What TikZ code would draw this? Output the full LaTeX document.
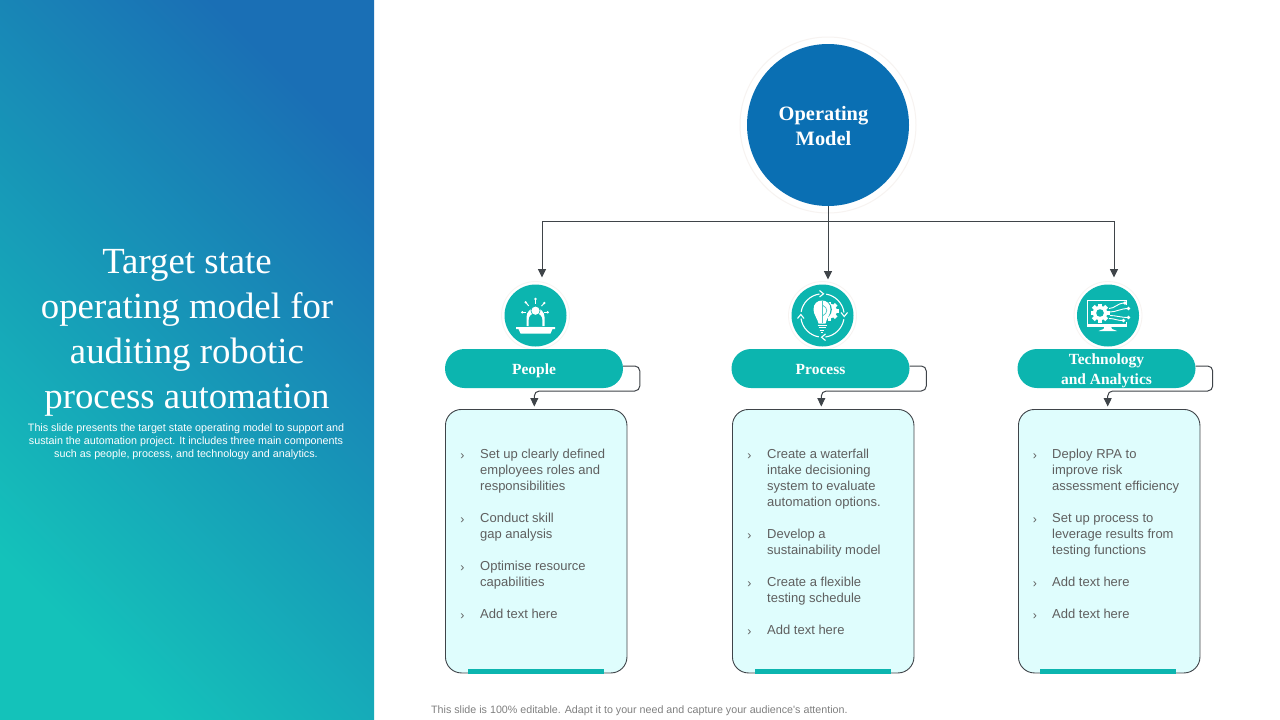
\documentclass[tikz,border=0pt]{standalone}
\usepackage{fontspec}
\setmainfont{Liberation Serif}
\newfontfamily\bodyfont{Liberation Sans}
\usetikzlibrary{arrows.meta,calc}
\definecolor{teal1}{HTML}{0CB5AF}
\definecolor{bluedeep}{HTML}{0A6FB3}
\definecolor{gradblue}{HTML}{1A6FB5}
\definecolor{gradteal}{HTML}{14C2BA}
\definecolor{panelfill}{HTML}{DFFDFD}
\definecolor{linedark}{HTML}{3F4449}
\definecolor{bodytext}{HTML}{5F5F5F}
\definecolor{ringc}{HTML}{F7F3F1}
\newcommand{\stackedtext}[1]{\begin{tabular}{@{}c@{}}#1\end{tabular}}
\newcommand{\lowered}[2]{\setbox0=\hbox{#2}\ht0=\dimexpr\ht0+#1\relax\box0 }
\tikzset{
  conn/.style={draw=linedark,line width=1pt},
  arrowed/.style={conn,-{Triangle[length=8.5pt,width=8pt]}},
  pill/.style={fill=teal1,rounded corners=19.5pt,minimum width=178pt,minimum height=39pt,inner sep=0pt,text=white,font=\fontsize{15.5}{20}\selectfont\bfseries},
  panel/.style={draw=linedark,line width=0.9pt,fill=panelfill,rounded corners=16pt,minimum width=181.5pt,minimum height=263.5pt,inner sep=0pt,anchor=north west},
  bar/.style={fill=teal1,minimum width=136pt,minimum height=4.5pt,inner sep=0pt},
  iconring/.style={circle,fill=white,draw=ringc,line width=0.8pt,minimum size=68pt,inner sep=0pt},
  iconcore/.style={circle,fill=teal1,minimum size=62pt,inner sep=0pt},
  bul/.style={anchor=base,inner sep=0pt,text=bodytext,font=\bodyfont\fontsize{12.3}{16}\selectfont},
  item/.style={anchor=north west,inner sep=0pt,text=bodytext,align=left,font=\bodyfont\fontsize{13}{16}\selectfont},
  wl/.style={white,line width=1.1pt},
}
\begin{document}
\begin{tikzpicture}[x=1pt,y=-1pt]
\useasboundingbox (0,0) rectangle (1280,720);
\fill[white] (0,0) rectangle (1280,720);
\shade[top color=gradblue,bottom color=gradteal,shading angle=-45] (0,0) rectangle (374,720);
% left text
\node[anchor=center,inner sep=0pt,text=white,align=center,font=\fontsize{36.8}{45}\selectfont] (title) at (187,332.5)
 {Target state\\operating model for\\auditing robotic\\process automation};
\node[anchor=center,inner sep=0pt,text=white,align=center,font=\bodyfont\fontsize{10.75}{13}\selectfont] (desc) at (186,442)
 {This slide presents the target state operating model to support and\\sustain the automation project. It includes three main components\\such as people, process, and technology and analytics.};
\node[anchor=west,inner sep=0pt,text=black!50,font=\bodyfont\fontsize{10.7}{13}\selectfont] (foot) at (431,710.5)
 {This slide is 100\% editable. Adapt it to your need and capture your audience's attention.};
% main circle
\node[circle,fill=white,draw=ringc,line width=1pt,minimum size=176pt,inner sep=0pt] (oring) at (828,125) {};
\node[circle,fill=bluedeep,minimum size=162pt,inner sep=0pt,text=white,font=\fontsize{20.4}{25}\selectfont\bfseries] (op) at (828,125)
 {\lowered{5pt}{\stackedtext{Operating\\Model}}\hspace*{9pt}};
% icon circles
\node[iconring] (ra) at (535.5,315.5) {}; \node[iconcore] (ia) at (535.5,315.5) {};
\node[iconring] (rb) at (822.5,315.5) {}; \node[iconcore] (ib) at (822.5,315.5) {};
\node[iconring] (rc) at (1108,315.5) {}; \node[iconcore] (ic) at (1108,315.5) {};
% pills
\node[pill] (pa) at (534,368.5) {\lowered{3.5pt}{\strut People}};
\node[pill] (pb) at (820.5,368.5) {\lowered{3.5pt}{\strut Process}};
\node[pill,inner ysep=-4pt] (pc) at (1106.5,368.5) {\lowered{3.5pt}{\stackedtext{Technology\\and Analytics}}};
% panels
\node[panel] (ba) at (445,409) {};
\node[panel] (bb) at (732,409) {};
\node[panel] (bc) at (1018,409) {};
\node[bar] (ga) at (536,671.5) {};
\node[bar] (gb) at (822.5,671.5) {};
\node[bar] (gc) at (1108,671.5) {};
% connectors
\coordinate (bus) at (828,221);
\coordinate (busl) at (542,221);
\coordinate (busr) at (1114,221);
\coordinate (ea) at (542,277.5);
\coordinate (eb) at (828,279.5);
\coordinate (ec) at (1114,277.5);
\draw[conn] (op.south) -- (bus);
\draw[conn] (busl) -- (busr);
\draw[arrowed] (busl) -- (ea);
\draw[arrowed] (bus) -- (eb);
\draw[arrowed] (busr) -- (ec);
\coordinate (ta) at (534.3,409); \coordinate (tb) at (821.3,409); \coordinate (tc) at (1107.7,409);
\draw[arrowed,rounded corners=5pt,shorten >=2.5pt] (pa.east) ++(0,-2.5) -- (639.8,366) -- (639.8,391) -- (534.3,391) -- (ta);
\draw[arrowed,rounded corners=5pt,shorten >=2.5pt] (pb.east) ++(0,-2.5) -- (926.3,366) -- (926.3,391) -- (821.3,391) -- (tb);
\draw[arrowed,rounded corners=5pt,shorten >=2.5pt] (pc.east) ++(0,-2.5) -- (1212.7,366) -- (1212.7,391) -- (1107.7,391) -- (tc);
% icon people
\begin{scope}[shift={(535.5,315.5)}]
\fill[white] (-19.5,11.5) -- (19.5,11.5) -- (19.5,13.5) -- (17,13.5) -- (15,18) -- (-15,18) -- (-17,13.5) -- (-19.5,13.5) -- cycle;
\fill[white] (-9,10.5) -- (-9,1.5) arc[start angle=180,end angle=360,radius=9] -- (9,10.5) -- cycle;
\fill[teal1] (-6.8,10.5) -- (-6.8,4.5) arc[start angle=180,end angle=360,radius=6.8] -- (6.8,10.5) -- cycle;
\fill[teal1] (0,-4.8) circle (4.9);
\fill[white] (0,-4.8) circle (4.1);
\foreach \tipx/\tipy/\inx/\iny in {-9.8/-13.2/-6.8/-9.6, 0/-16.5/0/-12, 8.8/-12.5/6/-9.4, -13.2/-3.2/-9.2/-3.2, 12.2/-3.2/8.2/-3.2}{
  \draw[white,line width=1pt] (\tipx,\tipy) -- (\inx,\iny);
  \fill[white] (\tipx,\tipy) circle (1.3);
}
\end{scope}
% icon process
\begin{scope}[shift={(822.5,315.5)}]
\draw[wl] (-80:21.7) arc[start angle=-80,end angle=-8,radius=21.7];
\draw[wl] (10:21.7) arc[start angle=10,end angle=82,radius=21.7];
\draw[wl] (100:21.7) arc[start angle=100,end angle=172,radius=21.7];
\draw[wl] (190:21.7) arc[start angle=190,end angle=262,radius=21.7];
\draw[wl] (-3,-25) -- (1,-21.7) -- (-3,-18.5);
\draw[wl] (18.5,-3) -- (21.7,1) -- (25,-3);
\draw[wl] (3,18.5) -- (-1,21.7) -- (3,25);
\draw[wl] (-25,3) -- (-21.7,-1) -- (-18.5,3);
% gear
\begin{scope}[shift={(7,-4.5)}]
\foreach \a in {0,45,...,315}{\fill[white,rotate=\a] (-1.9,-9.5) rectangle (1.9,-6);}
\fill[white] (0,0) circle (7.4);
\end{scope}
% bulb
\fill[teal1] (-0.5,-6) circle (9.8);
\fill[white] (-4,8) .. controls (-5,3) and (-9,-1) .. (-9,-6) .. controls (-9,-12) and (-5,-15) .. (-0.5,-15) .. controls (4,-15) and (8,-12) .. (8,-6) .. controls (8,-1) and (4,3) .. (3,8) -- cycle;
\draw[teal1!75!white,line width=0.8pt] (0,-15) -- (0,7);
\draw[teal1!75!white,line width=0.7pt] (0.5,-10) .. controls (5.5,-8) and (5.5,-2) .. (0.5,0);
\foreach \y/\w in {9.8/4.5,12.2/3.5,14.6/2.4,16.8/1.2}{\draw[white,line width=1pt] (-\w-0.5,\y) -- (\w-0.5,\y);}
\end{scope}
% icon tech
\begin{scope}[shift={(1108,315.5)}]
\draw[white,line width=1.3pt] (18.7,-11) -- (18.7,-15) -- (-20.7,-15) -- (-20.7,9.5) -- (18.7,9.5) -- (18.7,6);
\fill[white] (-20.7,8) rectangle (18.7,11);
\fill[white] (-3.5,11) -- (3,11) -- (4,13.5) -- (9,15.5) -- (-9.5,15.5) -- (-4.5,13.5) -- cycle;
\begin{scope}[shift={(-8,-2.5)}]
\foreach \a in {0,45,...,315}{\fill[white,rotate=\a] (-2,-9.5) rectangle (2,-6);}
\fill[white] (0,0) circle (7.2);
\fill[teal1] (0,0) circle (3.8);
\end{scope}
\foreach \xa/\ya/\xb/\yb in {1/-7/17/-12.5,2/-3.5/20.5/-7,2/0/20.5/2,1/3/15.5/5}{
  \draw[white,line width=0.9pt] (\xa,\ya) .. controls (\xa+6,\ya) and (\xb-8,\yb) .. (\xb,\yb);
  \fill[white] (\xb,\yb) circle (1.8);
}
\end{scope}
% text columns
\foreach \bx/\y in {462.5/459,462.5/523,462.5/571,462.5/619,749.5/459,749.5/539,749.5/587,749.5/635,1035/459,1035/523,1035/587,1035/619}{
  \node[bul] at (\bx,\y) {›};
}
\node[item] (a1) at (480,449) {Set up clearly defined\\employees roles and\\responsibilities};
\node[item] (a2) at (480,513) {Conduct skill\\gap analysis};
\node[item] (a3) at (480,561) {Optimise resource\\capabilities};
\node[item] (a4) at (480,609) {Add text here};
\node[item] (b1) at (767,449) {Create a waterfall\\intake decisioning\\system to evaluate\\automation options.};
\node[item] (b2) at (767,529) {Develop a\\sustainability model};
\node[item] (b3) at (767,577) {Create a flexible\\testing schedule};
\node[item] (b4) at (767,625) {Add text here};
\node[item] (c1) at (1052,449) {Deploy RPA to\\improve risk\\assessment efficiency};
\node[item] (c2) at (1052,513) {Set up process to\\leverage results from\\testing functions};
\node[item] (c3) at (1052,577) {Add text here};
\node[item] (c4) at (1052,609) {Add text here};
\end{tikzpicture}
\end{document}
